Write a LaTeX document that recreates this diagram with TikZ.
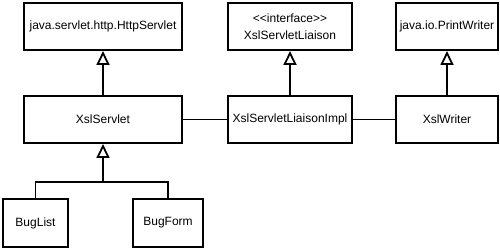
\documentclass[tikz,border=0pt]{standalone}
\usepackage{fontspec}
\setmainfont{Liberation Sans}
\usetikzlibrary{arrows.meta}

\tikzset{
  classe/.style={draw, line width=2pt, fill=white, align=center,
                 font=\fontsize{12}{16.5}\selectfont, inner sep=2pt},
  herencia/.style={line width=1.8pt, -{Triangle[open, width=13pt, length=14pt]}},
  enllac/.style={line width=1.4pt}
}

\begin{document}
\begin{tikzpicture}[x=1pt, y=1pt]
        \useasboundingbox (0,0) rectangle (500,249);
        % Fila de dalt
        \node[classe, minimum width=158pt, minimum height=47pt] (http) at (103,222.5) {java.servlet.http.HttpServlet};
        \node[classe, minimum width=124pt, minimum height=47pt] (iface) at (290,222.5) {<\kern0pt<interface>\kern0pt>\\XslServletLiaison};
        \node[classe, minimum width=102pt, minimum height=47pt] (pw) at (447,222.5) {java.io.PrintWriter};
        % Fila del mig
        \node[classe, minimum width=158pt, minimum height=47pt] (xsl) at (103,129.5) {XslServlet};
        \node[classe, minimum width=124pt, minimum height=47pt] (impl) at (290,129.5) {XslServletLiaisonImpl};
        \node[classe, minimum width=102pt, minimum height=47pt] (writer) at (447,129.5) {XslWriter};
        % Fila de baix
        \node[classe, minimum width=65pt, minimum height=48pt] (buglist) at (35.5,26) {BugList};
        \node[classe, minimum width=70pt, minimum height=48pt] (bugform) at (168,26) {BugForm};
        \coordinate (fork) at (103,67);

        \draw[herencia] (xsl) -- (http);
        \draw[herencia] (impl) -- (iface);
        \draw[herencia] (writer) -- (pw);
        \draw[herencia] (fork) -- (xsl);
        \draw[enllac] (buglist.north) |- (fork) -| (bugform.north);
        \draw[enllac] (xsl) -- (impl) -- (writer);
    \end{tikzpicture}
\end{document}
